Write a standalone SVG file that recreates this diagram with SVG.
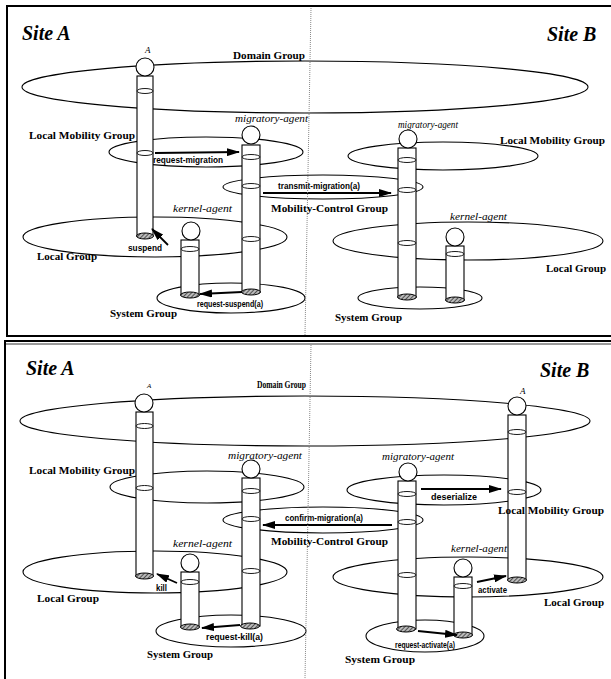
<svg xmlns="http://www.w3.org/2000/svg" width="611" height="679" viewBox="0 0 611 679">
<style>
.bg{fill:#fff}
.frame{stroke:#000;stroke-width:2;fill:none}
.div{stroke:#888;stroke-width:1;stroke-dasharray:1 1;fill:none}
.grp{fill:none;stroke:#000;stroke-width:1.1}
.cyl{fill:#fff;stroke:#000;stroke-width:1.1}
.head{fill:#fff;stroke:#000;stroke-width:1.1}
.disc{fill:#fff;stroke:#000;stroke-width:0.9}
.hat{fill:url(#hatch);stroke:#000;stroke-width:1}
.arr{stroke:#000;stroke-width:1.8;fill:none;marker-end:url(#ah)}
.site{font-family:"Liberation Serif",serif;font-weight:bold;font-style:italic;font-size:20px}
.gl{font-family:"Liberation Serif",serif;font-weight:bold;font-size:11.3px}
.al{font-family:"Liberation Serif",serif;font-style:italic;font-size:11px}
.ml{font-family:"Liberation Sans Narrow","Liberation Sans",Arial,sans-serif;font-weight:bold;font-size:9.5px}
</style>
<defs>
<pattern id="hatch" width="3" height="3" patternUnits="userSpaceOnUse" patternTransform="rotate(45)">
<rect width="3" height="3" fill="#bbb"/>
<line x1="0" y1="0" x2="0" y2="3" stroke="#222" stroke-width="1.4"/>
</pattern>
<marker id="ah" markerUnits="userSpaceOnUse" markerWidth="13" markerHeight="8" refX="12" refY="4" orient="auto">
<path d="M0,0 L13,4 L0,8 z" fill="#000"/>
</marker>
</defs>
<rect class="bg" x="0" y="0" width="611" height="679"/>

<!-- frames -->
<g id="frames">
<path class="frame" d="M611,6 L7,6 L7,336 L611,336"/>
<path class="frame" d="M611,341 L5,341 L5,679"/>
<path d="M5,344 L611,344" stroke="#000" stroke-width="0.8"/>
</g>

<!-- ===== TOP PANEL ===== -->
<g id="t-siteA"><text class="site" x="22" y="40">Site A</text></g>
<g id="t-siteB"><text class="site" x="547" y="41">Site B</text></g>

<g id="t-domain"><ellipse class="grp" cx="305" cy="87" rx="283" ry="26"/><text class="gl" x="233" y="59" textLength="72" lengthAdjust="spacingAndGlyphs">Domain Group</text></g>
<g id="t-lmgA"><ellipse class="grp" cx="206" cy="152" rx="97" ry="15"/><text class="gl" x="29" y="139" textLength="106" lengthAdjust="spacingAndGlyphs">Local Mobility Group</text></g>
<g id="t-lmgB"><ellipse class="grp" cx="443" cy="156" rx="95" ry="14"/><text class="gl" x="500" y="144" textLength="105" lengthAdjust="spacingAndGlyphs">Local Mobility Group</text></g>
<g id="t-mcg"><ellipse class="grp" cx="323" cy="187" rx="100" ry="12"/><text class="gl" x="271" y="212" textLength="117" lengthAdjust="spacingAndGlyphs">Mobility-Control Group</text></g>
<g id="t-localA"><ellipse class="grp" cx="155" cy="237" rx="132" ry="20"/><text class="gl" x="37" y="260" textLength="60" lengthAdjust="spacingAndGlyphs">Local Group</text></g>
<g id="t-localB"><ellipse class="grp" cx="468" cy="241" rx="135" ry="19"/><text class="gl" x="546" y="272" textLength="60" lengthAdjust="spacingAndGlyphs">Local Group</text></g>
<g id="t-sysA"><ellipse class="grp" cx="231" cy="298" rx="74" ry="15"/><text class="gl" x="110" y="317" textLength="67" lengthAdjust="spacingAndGlyphs">System Group</text></g>
<g id="t-sysB"><ellipse class="grp" cx="420" cy="298" rx="62" ry="11"/><text class="gl" x="335" y="321" textLength="67" lengthAdjust="spacingAndGlyphs">System Group</text></g>

<g id="t-agentA">
<rect class="cyl" x="137" y="76" width="16" height="160"/>
<ellipse class="disc" cx="145" cy="91" rx="8" ry="2.5"/>
<ellipse class="disc" cx="145" cy="153" rx="8" ry="2.5"/>
<ellipse class="hat" cx="145" cy="236" rx="8.5" ry="3"/>
<circle class="head" cx="145" cy="67" r="9"/>
<text class="al" x="145" y="53" style="font-size:9px">A</text>
</g>
<g id="t-migA">
<rect class="cyl" x="242" y="145" width="18" height="147"/>
<ellipse class="disc" cx="251" cy="157" rx="9" ry="2.5"/>
<ellipse class="disc" cx="251" cy="186" rx="9" ry="2.5"/>
<ellipse class="disc" cx="251" cy="239" rx="9" ry="2.5"/>
<ellipse class="hat" cx="251" cy="292" rx="9.5" ry="3"/>
<circle class="head" cx="251" cy="135" r="9"/>
<text class="al" x="235" y="122" textLength="73" lengthAdjust="spacingAndGlyphs">migratory-agent</text>
</g>
<g id="t-kerA">
<rect class="cyl" x="181" y="240" width="18" height="55"/>
<ellipse class="disc" cx="190" cy="249" rx="9" ry="2.5"/>
<ellipse class="hat" cx="190" cy="295" rx="9.5" ry="3"/>
<circle class="head" cx="191" cy="231" r="9"/>
<text class="al" x="173" y="212" textLength="59" lengthAdjust="spacingAndGlyphs">kernel-agent</text>
</g>
<g id="t-migB">
<rect class="cyl" x="398" y="148" width="18" height="149"/>
<ellipse class="disc" cx="407" cy="160" rx="9" ry="2.5"/>
<ellipse class="disc" cx="407" cy="190" rx="9" ry="2.5"/>
<ellipse class="disc" cx="407" cy="243" rx="9" ry="2.5"/>
<ellipse class="hat" cx="407" cy="297" rx="9.5" ry="3"/>
<circle class="head" cx="408" cy="139" r="9"/>
<text class="al" x="398" y="128" textLength="60" lengthAdjust="spacingAndGlyphs">migratory-agent</text>
</g>
<g id="t-kerB">
<rect class="cyl" x="446" y="246" width="18" height="54"/>
<ellipse class="disc" cx="455" cy="254" rx="9" ry="2.5"/>
<ellipse class="hat" cx="455" cy="300" rx="9.5" ry="3"/>
<circle class="head" cx="455" cy="237" r="9"/>
<text class="al" x="450" y="220" textLength="57" lengthAdjust="spacingAndGlyphs">kernel-agent</text>
</g>

<!-- ===== BOTTOM PANEL ===== -->
<g id="b-siteA"><text class="site" x="26" y="375">Site A</text></g>
<g id="b-siteB"><text class="site" x="540" y="377">Site B</text></g>

<g id="b-domain"><ellipse class="grp" cx="305" cy="421" rx="285" ry="25"/><text class="gl" x="257" y="388" textLength="49" lengthAdjust="spacingAndGlyphs">Domain Group</text></g>
<g id="b-lmgA"><ellipse class="grp" cx="207" cy="487" rx="97" ry="16"/><text class="gl" x="29" y="474" textLength="106" lengthAdjust="spacingAndGlyphs">Local Mobility Group</text></g>
<g id="b-lmgB"><ellipse class="grp" cx="444" cy="490" rx="97" ry="15"/></g>
<g id="b-mcg"><ellipse class="grp" cx="323" cy="520" rx="100" ry="13"/><text class="gl" x="271" y="545" textLength="117" lengthAdjust="spacingAndGlyphs">Mobility-Control Group</text></g>
<g id="b-localA"><ellipse class="grp" cx="155" cy="572" rx="132" ry="21"/><text class="gl" x="37" y="602" textLength="62" lengthAdjust="spacingAndGlyphs">Local Group</text></g>
<g id="b-localB"><ellipse class="grp" cx="468" cy="577" rx="135" ry="20"/><text class="gl" x="544" y="606" textLength="60" lengthAdjust="spacingAndGlyphs">Local Group</text></g>
<g id="b-sysA"><ellipse class="grp" cx="231" cy="631" rx="75" ry="16"/><text class="gl" x="147" y="658" textLength="66" lengthAdjust="spacingAndGlyphs">System Group</text></g>
<g id="b-sysB"><ellipse class="grp" cx="425" cy="636" rx="59" ry="16"/><text class="gl" x="345" y="663" textLength="70" lengthAdjust="spacingAndGlyphs">System Group</text></g>

<g id="b-agentA">
<rect class="cyl" x="136" y="412" width="17" height="164"/>
<ellipse class="disc" cx="144.5" cy="426" rx="8.5" ry="2.5"/>
<ellipse class="disc" cx="144.5" cy="488" rx="8.5" ry="2.5"/>
<ellipse class="hat" cx="144.5" cy="576" rx="9" ry="3"/>
<circle class="head" cx="144" cy="403" r="9"/>
<text class="al" x="147" y="388" style="font-size:7px">A</text>
</g>
<g id="b-migA">
<rect class="cyl" x="242" y="478" width="18" height="148"/>
<ellipse class="disc" cx="251" cy="491" rx="9" ry="2.5"/>
<ellipse class="disc" cx="251" cy="519" rx="9" ry="2.5"/>
<ellipse class="disc" cx="251" cy="571" rx="9" ry="2.5"/>
<ellipse class="hat" cx="250" cy="626" rx="9.5" ry="3"/>
<circle class="head" cx="251" cy="469" r="9"/>
<text class="al" x="228" y="459" textLength="74" lengthAdjust="spacingAndGlyphs">migratory-agent</text>
</g>
<g id="b-kerA">
<rect class="cyl" x="181" y="572" width="18" height="55"/>
<ellipse class="disc" cx="190" cy="582" rx="9" ry="2.5"/>
<ellipse class="hat" cx="190" cy="627" rx="9.5" ry="3"/>
<circle class="head" cx="190" cy="563" r="9"/>
<text class="al" x="173" y="547" textLength="59" lengthAdjust="spacingAndGlyphs">kernel-agent</text>
</g>
<g id="b-migB">
<rect class="cyl" x="398" y="481" width="18" height="148"/>
<ellipse class="disc" cx="407" cy="494" rx="9" ry="2.5"/>
<ellipse class="disc" cx="407" cy="522" rx="9" ry="2.5"/>
<ellipse class="disc" cx="407" cy="575" rx="9" ry="2.5"/>
<ellipse class="hat" cx="406" cy="629" rx="9.5" ry="3"/>
<circle class="head" cx="408" cy="472" r="9"/>
<text class="al" x="382" y="460" textLength="72" lengthAdjust="spacingAndGlyphs">migratory-agent</text>
</g>
<g id="b-kerB">
<rect class="cyl" x="454" y="577" width="18" height="58"/>
<ellipse class="disc" cx="463" cy="586" rx="9" ry="2.5"/>
<ellipse class="hat" cx="463" cy="635" rx="9.5" ry="3"/>
<circle class="head" cx="463" cy="568" r="9"/>
<text class="al" x="451" y="552" textLength="56" lengthAdjust="spacingAndGlyphs">kernel-agent</text>
</g>
<g id="b-agentAB">
<rect class="cyl" x="508" y="415" width="18" height="165"/>
<ellipse class="disc" cx="517" cy="432" rx="9" ry="2.5"/>
<ellipse class="disc" cx="517" cy="492" rx="9" ry="2.5"/>
<ellipse class="hat" cx="517" cy="580" rx="9.5" ry="3"/>
<circle class="head" cx="517" cy="406" r="9"/>
<text class="al" x="520" y="394" style="font-size:9px">A</text>
</g>
<g id="b-lmgB-label"><text class="gl" x="498" y="514" textLength="106" lengthAdjust="spacingAndGlyphs">Local Mobility Group</text></g>

<!-- connectors -->
<g id="connectors">
<line class="arr" x1="155" y1="153" x2="239" y2="152"/>
<text class="ml" x="153" y="163" textLength="70" lengthAdjust="spacingAndGlyphs">request-migration</text>
<line class="arr" x1="263" y1="193" x2="391" y2="193"/>
<text class="ml" x="278" y="189" textLength="82" lengthAdjust="spacingAndGlyphs">transmit-migration(a)</text>
<line class="arr" x1="168" y1="245" x2="152" y2="229"/>
<text class="ml" x="128" y="251" textLength="34" lengthAdjust="spacingAndGlyphs">suspend</text>
<line class="arr" x1="242" y1="292" x2="200" y2="294"/>
<text class="ml" x="197" y="307" textLength="66" lengthAdjust="spacingAndGlyphs">request-suspend(a)</text>

<line class="arr" x1="421" y1="489" x2="501" y2="489"/>
<text class="ml" x="431" y="500" textLength="46" lengthAdjust="spacingAndGlyphs">deserialize</text>
<line class="arr" x1="392" y1="525" x2="263" y2="525"/>
<text class="ml" x="285" y="521" textLength="78" lengthAdjust="spacingAndGlyphs">confirm-migration(a)</text>
<line class="arr" x1="177" y1="583" x2="157" y2="574"/>
<text class="ml" x="156" y="591" textLength="11" lengthAdjust="spacingAndGlyphs">kill</text>
<line class="arr" x1="240" y1="625" x2="202" y2="628"/>
<text class="ml" x="206" y="640" textLength="57" lengthAdjust="spacingAndGlyphs">request-kill(a)</text>
<line class="arr" x1="477" y1="582" x2="506" y2="576"/>
<text class="ml" x="478" y="593" textLength="29" lengthAdjust="spacingAndGlyphs">activate</text>
<line class="arr" x1="418" y1="631" x2="457" y2="635"/>
<text class="ml" x="395" y="648" textLength="60" lengthAdjust="spacingAndGlyphs">request-activate(a)</text>
</g>

<g id="divider">
<line class="div" x1="311" y1="8" x2="305" y2="335"/>
<line class="div" x1="311" y1="345" x2="305" y2="679"/>
</g>
</svg>
